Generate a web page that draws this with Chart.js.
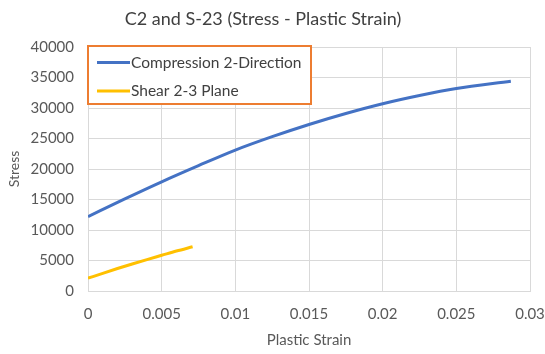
<!DOCTYPE html>
<html>
<head>
<meta charset="utf-8">
<script src="https://cdn.jsdelivr.net/npm/chart.js@4/dist/chart.umd.min.js"></script>
<style>
  html, body { margin: 0; padding: 0; background: #fff; }
  #wrap { width: 545px; height: 354px; }
</style>
</head>
<body>
<div id="wrap"><canvas id="chartStress"></canvas></div>
<script>
// Courbes contrainte / deformation plastique
const compressionStrain = [0, 0.0025, 0.005, 0.0075, 0.01, 0.0125, 0.015, 0.0175, 0.02, 0.0225, 0.025, 0.0287];
const compressionStress = [12200, 15100, 17900, 20550, 23100, 25300, 27300, 29100, 30700, 32050, 33200, 34400];
const shearStrain = [0, 0.001, 0.002, 0.003, 0.004, 0.005, 0.006, 0.0071];
const shearStress = [2100, 2900, 3680, 4430, 5150, 5850, 6550, 7250];

const chartTitle = 'C2 and S-23 (Stress - Plastic Strain)';
const FONT = 'Lato, "Open Sans", sans-serif';
const GRID = '#d9d9d9';

function points(xs, ys) {
    return xs.map((x, i) => ({ x: x, y: ys[i] }));
}

// Titre + legende encadree dans le coin haut gauche du graphique
const boxedLegend = {
    id: 'boxedLegend',
    afterDraw(chart) {
        const ctx = chart.ctx;
        const left = chart.chartArea.left;
        const top = chart.chartArea.top - 1;
        const w = 223, h = 58;
        ctx.save();

        ctx.fillStyle = '#404040';
        ctx.font = '18px ' + FONT;
        ctx.textAlign = 'center';
        ctx.textBaseline = 'middle';
        ctx.fillText(chartTitle, 263, 19);

        ctx.fillStyle = '#fff';
        ctx.fillRect(left, top, w, h);
        ctx.strokeStyle = '#ed7d31';
        ctx.lineWidth = 2;
        ctx.strokeRect(left, top, w, h);
        ctx.font = '15.5px ' + FONT;
        ctx.textAlign = 'left';
        chart.data.datasets.forEach((ds, i) => {
            const y = top + 16.5 + i * 28.5;
            ctx.strokeStyle = ds.borderColor;
            ctx.lineWidth = 3;
            ctx.beginPath();
            ctx.moveTo(left + 9, y);
            ctx.lineTo(left + 42, y);
            ctx.stroke();
            ctx.fillStyle = '#404040';
            ctx.fillText(ds.label, left + 43, y);
        });
        ctx.restore();
    }
};

const ctxStress = document.getElementById('chartStress');
new Chart(ctxStress.getContext('2d'), {
    type: 'line',
    data: {
        datasets: [{
            label: 'Compression 2-Direction',
            data: points(compressionStrain, compressionStress),
            borderColor: '#4472c4',
            borderWidth: 3,
            pointRadius: 0,
            cubicInterpolationMode: 'monotone',
            fill: false
        }, {
            label: 'Shear 2-3 Plane',
            data: points(shearStrain, shearStress),
            borderColor: '#ffc000',
            borderWidth: 3,
            pointRadius: 0,
            cubicInterpolationMode: 'monotone',
            fill: false
        }]
    },
    options: {
        responsive: true,
        maintainAspectRatio: false,
        animation: false,
        layout: { padding: { left: 0, right: 15, top: 47, bottom: 0 } },
        plugins: {
            legend: { display: false },
            tooltip: { enabled: false },
            title: { display: false }
        },
        scales: {
            x: {
                type: 'linear',
                min: 0,
                max: 0.03,
                ticks: {
                    stepSize: 0.005,
                    color: '#595959',
                    font: { family: FONT, size: 15 },
                    padding: 14,
                    callback: v => String(Number(v.toFixed(3)))
                },
                grid: { color: GRID, drawTicks: false },
                border: { color: GRID },
                title: {
                    display: true,
                    text: 'Plastic Strain',
                    color: '#595959',
                    font: { family: FONT, size: 15 },
                    padding: { top: 6, bottom: 5 }
                },
                afterFit(scale) {
                    scale.height = 63;
                    scale.paddingLeft = 0;
                    scale.paddingRight = 0;
                }
            },
            y: {
                min: 0,
                max: 40000,
                ticks: {
                    stepSize: 5000,
                    color: '#595959',
                    font: { family: FONT, size: 15 },
                    padding: 14,
                    callback: v => String(v)
                },
                grid: { color: GRID, drawTicks: false },
                border: { color: GRID },
                title: {
                    display: true,
                    text: 'Stress',
                    color: '#595959',
                    font: { family: FONT, size: 14 },
                    padding: { top: 6, bottom: 4 }
                },
                afterFit(scale) { scale.width = 88; }
            }
        }
    },
    plugins: [boxedLegend]
});
</script>
</body>
</html>
